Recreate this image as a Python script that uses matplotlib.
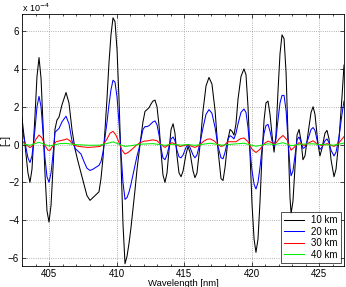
import numpy as np
import matplotlib
matplotlib.use("Agg")
import matplotlib.pyplot as plt
from matplotlib.ticker import MultipleLocator

plt.rcParams['font.family'] = ['Liberation Sans', 'DejaVu Sans']

# shared wavelength grid for the 10 km and 20 km curves [nm]
wl_main = [403.00, 403.22, 403.44, 403.59, 403.74, 403.96, 404.11, 404.26, 404.41, 404.56,
           404.70, 404.85, 405.00, 405.15, 405.30, 405.44, 405.59, 405.74, 405.96, 406.26,
           406.48, 406.70, 406.93, 407.15, 407.37, 407.59, 407.81, 408.04, 408.26, 408.48,
           408.70, 408.85, 409.00, 409.15, 409.30, 409.44, 409.59, 409.74, 409.89, 410.04,
           410.19, 410.33, 410.48, 410.63, 410.78, 410.93, 411.07, 411.22, 411.37, 411.52,
           411.67, 411.81, 411.96, 412.11, 412.26, 412.41, 412.56, 412.70, 412.85, 413.00,
           413.15, 413.30, 413.44, 413.59, 413.74, 413.89, 414.04, 414.19, 414.33, 414.48,
           414.63, 414.78, 414.93, 415.15, 415.30, 415.44, 415.67, 415.81, 415.96, 416.19,
           416.41, 416.63, 416.85, 417.07, 417.30, 417.52, 417.74, 417.89, 418.04, 418.26,
           418.41, 418.56, 418.70, 418.85, 419.00, 419.22, 419.44, 419.59, 419.74, 419.89,
           420.04, 420.19, 420.33, 420.48, 420.63, 420.78, 420.93, 421.07, 421.22, 421.37,
           421.52, 421.67, 421.81, 421.96, 422.11, 422.26, 422.41, 422.56, 422.70, 422.85,
           422.93, 423.07, 423.22, 423.37, 423.52, 423.67, 423.81, 423.96, 424.19, 424.41,
           424.56, 424.70, 424.93, 425.07, 425.22, 425.44, 425.59, 425.74, 425.89, 426.11,
           426.26, 426.48, 426.70, 426.85]

# values in units of 1e-4
tau_10km = [1.4, 0.0, -1.5, -2.0, -1.3, 1.5, 3.6, 4.6, 3.5, 1.0,
            -1.5, -3.5, -4.1, -3.2, -1.2, 0.8, 1.3, 1.45, 2.1, 2.75,
            2.2, 0.8, -0.25, -0.9, -1.5, -2.1, -2.7, -2.95, -2.8, -2.65,
            -2.5, -1.8, -0.7, 0.8, 2.5, 4.3, 5.8, 6.7, 6.5, 5.0,
            2.3, -0.8, -4.2, -6.3, -5.9, -5.2, -4.4, -3.4, -2.4, -1.3,
            -0.4, 0.4, 1.2, 1.75, 1.85, 1.95, 2.15, 2.3, 2.35, 2.0,
            1.0, -0.4, -1.6, -2.0, -1.5, -0.3, 0.8, 1.1, 0.6, -0.6,
            -1.5, -1.7, -1.4, -0.5, -0.1, -0.4, -1.4, -1.75, -1.5, 0.0,
            1.8, 3.1, 3.55, 3.2, 1.8, -0.3, -1.8, -1.9, -1.2, 0.3,
            0.8, 0.7, 0.5, 1.1, 2.4, 3.6, 4.0, 3.7, 2.0, -0.5,
            -3.2, -5.0, -5.7, -5.0, -3.0, -0.5, 1.3, 2.2, 2.3, 1.6,
            0.5, -0.4, 0.5, 2.8, 4.8, 5.8, 5.6, 3.8, 0.5, -2.8,
            -3.65, -3.0, -1.2, 0.5, 0.8, 0.2, -0.8, -0.6, 0.6, 1.7,
            2.0, 1.6, 0.0, -0.6, -0.2, 0.6, 0.75, 0.3, -0.8, -1.7,
            -1.3, 0.3, 2.5, 4.2]

tau_20km = [0.9, 0.1, -0.7, -0.95, -0.6, 0.8, 2.0, 2.55, 2.0, 0.6,
            -0.7, -1.7, -2.0, -1.5, -0.5, 0.65, 0.75, 0.85, 1.2, 1.5,
            1.1, 0.2, -0.2, -0.35, -0.5, -0.9, -1.25, -1.37, -1.3, -1.2,
            -1.1, -0.9, -0.4, 0.4, 1.2, 2.1, 2.9, 3.4, 3.3, 2.5,
            1.1, -0.4, -2.0, -2.9, -2.8, -2.5, -2.1, -1.6, -1.1, -0.6,
            -0.2, 0.3, 0.8, 0.95, 0.95, 1.0, 1.1, 1.2, 1.25, 1.05,
            0.5, -0.2, -0.7, -0.8, -0.55, -0.1, 0.3, 0.4, 0.2, -0.3,
            -0.65, -0.7, -0.55, -0.15, 0.0, -0.15, -0.55, -0.7, -0.55, 0.1,
            0.9, 1.6, 1.85, 1.65, 0.9, -0.1, -0.7, -0.75, -0.4, 0.3,
            0.47, 0.4, 0.3, 0.6, 1.1, 1.7, 1.88, 1.7, 0.9, -0.3,
            -1.4, -2.1, -2.35, -2.0, -1.2, -0.2, 0.6, 1.0, 1.07, 0.7,
            0.2, -0.1, 0.3, 1.3, 2.2, 2.6, 2.6, 1.8, 0.3, -1.2,
            -1.65, -1.4, -0.6, 0.25, 0.4, 0.15, -0.2, -0.15, 0.3, 0.8,
            0.9, 0.75, 0.0, -0.25, -0.15, 0.2, 0.3, 0.1, -0.3, -0.6,
            -0.4, 0.4, 1.6, 2.3]

wl_30km = [403.00, 403.30, 403.59, 403.81, 404.04, 404.26, 404.48, 404.70, 404.93, 405.07,
           405.30, 405.52, 405.81, 406.11, 406.33, 406.56, 406.78, 407.07, 407.44, 407.89,
           408.33, 408.78, 409.07, 409.30, 409.52, 409.74, 409.96, 410.19, 410.41, 410.63,
           410.85, 411.15, 411.44, 411.74, 412.04, 412.33, 412.70, 413.00, 413.30, 413.59,
           413.89, 414.11, 414.41, 414.70, 415.00, 415.30, 415.59, 415.81, 416.11, 416.41,
           416.70, 416.93, 417.22, 417.52, 417.74, 417.96, 418.26, 418.56, 418.85, 419.15,
           419.44, 419.74, 420.04, 420.33, 420.63, 420.93, 421.22, 421.52, 421.74, 422.04,
           422.33, 422.63, 422.93, 423.22, 423.52, 423.89, 424.26, 424.56, 424.93, 425.22,
           425.59, 426.11, 426.48, 426.85]
tau_30km = [0.2, 0.0, -0.16, -0.05, 0.3, 0.5, 0.35, -0.05, -0.3, -0.3,
            -0.05, 0.15, 0.2, 0.25, 0.3, 0.2, 0.0, -0.08, -0.12, -0.15,
            -0.13, -0.1, 0.05, 0.3, 0.6, 0.7, 0.5, 0.1, -0.3, -0.5,
            -0.42, -0.25, -0.05, 0.1, 0.18, 0.2, 0.25, 0.2, 0.0, -0.15,
            0.0, 0.1, 0.0, -0.1, -0.05, 0.0, -0.1, -0.15, -0.05, 0.15,
            0.28, 0.3, 0.2, 0.0, -0.1, -0.05, 0.15, 0.15, 0.15, 0.3,
            0.35, 0.15, -0.25, -0.42, -0.25, 0.05, 0.18, 0.1, 0.02, 0.3,
            0.48, 0.25, -0.3, -0.1, 0.1, -0.05, 0.1, 0.2, 0.0, -0.05,
            0.05, -0.1, 0.1, 0.42]

wl_40km = [403.00, 403.59, 404.26, 405.00, 405.81, 406.26, 406.93, 408.04, 408.78, 409.30,
           409.74, 410.19, 410.63, 411.15, 411.74, 412.70, 413.59, 414.11, 414.78, 415.30,
           415.81, 416.93, 417.81, 418.56, 419.44, 420.33, 421.22, 421.74, 422.33, 422.93,
           423.59, 424.56, 425.07, 426.11, 426.85]
tau_40km = [0.05, -0.04, 0.12, -0.08, 0.05, 0.06, 0.0, -0.04, -0.03, 0.06,
            0.14, 0.02, -0.1, -0.05, 0.02, 0.05, -0.04, 0.02, -0.03, 0.0,
            -0.04, 0.07, -0.03, 0.02, 0.07, -0.09, 0.04, 0.0, 0.1, -0.06,
            0.02, 0.04, 0.0, -0.03, 0.08]

labels = ['10 km', '20 km', '30 km', '40 km']
colors = ['black', '#0000ff', '#ff0000', '#00ee00']

fig = plt.figure(figsize=(3.46, 2.87), dpi=100)
ax = fig.add_axes([0.0636, 0.0732, 0.9306, 0.8778])

series = [(wl_main, tau_10km), (wl_main, tau_20km), (wl_30km, tau_30km), (wl_40km, tau_40km)]
for (wl, tau), lab, col in zip(series, labels, colors):
    ax.plot(wl, tau, color=col, lw=0.75, label=lab)

ax.set_xlim(403, 426.85)
ax.set_ylim(-6.42, 6.9)
ax.set_xticks([405, 410, 415, 420, 425])
ax.set_yticks([-6, -4, -2, 0, 2, 4, 6])
ax.xaxis.set_minor_locator(MultipleLocator(1))
ax.tick_params(which='both', direction='in', top=True, right=True, labelsize=7, width=0.5, pad=2)
ax.tick_params(which='major', length=3)
ax.tick_params(which='minor', length=1.5)
ax.grid(True, which='major', linestyle=':', color='#999999', linewidth=0.6)
for s in ax.spines.values():
    s.set_linewidth(0.6)

ax.set_xlabel('Wavelength [nm]', fontsize=6.8)
ax.xaxis.set_label_coords(0.5, -0.05)
ax.set_ylabel('[–]', fontsize=7)
ax.yaxis.set_label_coords(-0.035, 0.5)
ax.text(0.0, 1.0, r'x 10$^{-4}$', transform=ax.transAxes, fontsize=6.5, va='bottom', ha='left')

leg = ax.legend(loc='lower right', fontsize=7, frameon=True, fancybox=False,
                edgecolor='black', handlelength=2.1, borderaxespad=0.35,
                labelspacing=0.15, borderpad=0.3, handletextpad=0.7)
leg.get_frame().set_linewidth(0.6)

fig.savefig('out.png', dpi=100)
